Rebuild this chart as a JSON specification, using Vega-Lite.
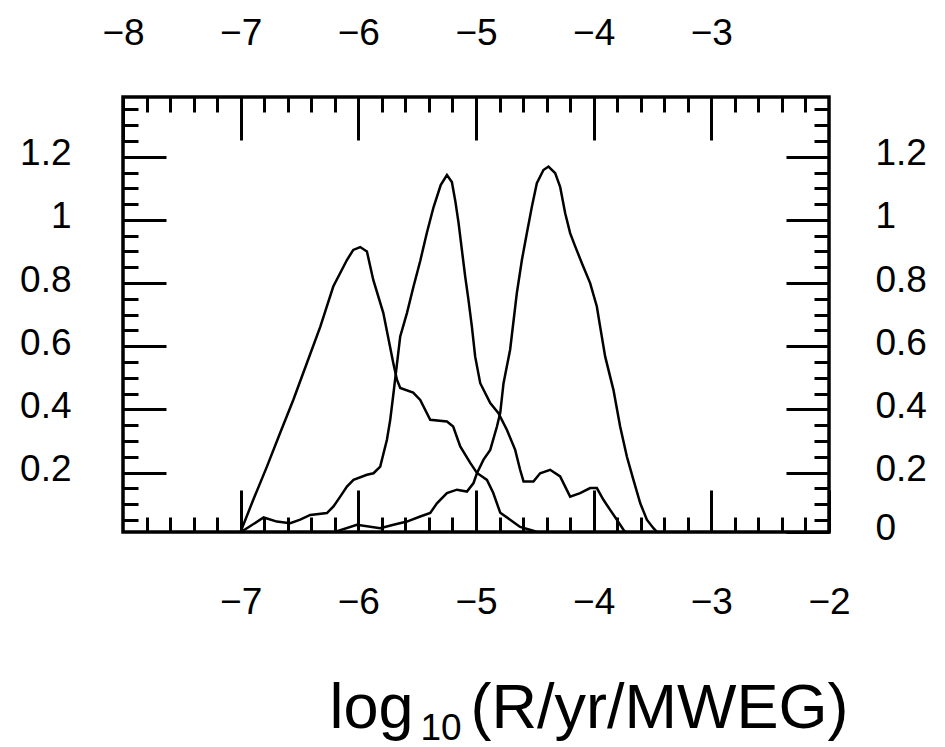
{
  "$schema": "https://vega.github.io/schema/vega-lite/v6.json",
  "width": 706,
  "height": 435,
  "autosize": "none",
  "padding": {"left": 123, "top": 97, "right": 116, "bottom": 215},
  "background": "white",
  "config": {
    "view": {"stroke": "black", "strokeWidth": 3.5},
    "axis": {
      "domain": false,
      "grid": false,
      "tickColor": "black",
      "tickWidth": 3,
      "labelColor": "black",
      "labelFont": "Liberation Sans",
      "labelFontSize": 37,
      "labelOverlap": false,
      "labelFlush": false,
      "titleFont": "Liberation Sans",
      "titleFontSize": 63,
      "titleFontWeight": "normal",
      "titleColor": "black"
    }
  },
  "data": {
    "values": [
      {"curve": "A", "x": -7.05, "y": 0},
      {"curve": "A", "x": -7.0, "y": 0.013},
      {"curve": "A", "x": -6.893, "y": 0.114},
      {"curve": "A", "x": -6.777, "y": 0.219},
      {"curve": "A", "x": -6.664, "y": 0.326},
      {"curve": "A", "x": -6.553, "y": 0.43},
      {"curve": "A", "x": -6.437, "y": 0.547},
      {"curve": "A", "x": -6.323, "y": 0.662},
      {"curve": "A", "x": -6.213, "y": 0.789},
      {"curve": "A", "x": -6.097, "y": 0.873},
      {"curve": "A", "x": -6.043, "y": 0.905},
      {"curve": "A", "x": -5.984, "y": 0.914},
      {"curve": "A", "x": -5.927, "y": 0.9},
      {"curve": "A", "x": -5.873, "y": 0.81},
      {"curve": "A", "x": -5.788, "y": 0.706},
      {"curve": "A", "x": -5.703, "y": 0.547},
      {"curve": "A", "x": -5.672, "y": 0.494},
      {"curve": "A", "x": -5.644, "y": 0.468},
      {"curve": "A", "x": -5.534, "y": 0.453},
      {"curve": "A", "x": -5.474, "y": 0.43},
      {"curve": "A", "x": -5.389, "y": 0.367},
      {"curve": "A", "x": -5.247, "y": 0.362},
      {"curve": "A", "x": -5.194, "y": 0.346},
      {"curve": "A", "x": -5.134, "y": 0.283},
      {"curve": "A", "x": -5.049, "y": 0.231},
      {"curve": "A", "x": -4.992, "y": 0.199},
      {"curve": "A", "x": -4.907, "y": 0.177},
      {"curve": "A", "x": -4.854, "y": 0.136},
      {"curve": "A", "x": -4.794, "y": 0.073},
      {"curve": "A", "x": -4.71, "y": 0.051},
      {"curve": "A", "x": -4.625, "y": 0.028},
      {"curve": "A", "x": -4.514, "y": 0.016},
      {"curve": "A", "x": -4.4, "y": 0},

      {"curve": "B", "x": -7.05, "y": 0},
      {"curve": "B", "x": -6.947, "y": 0.024},
      {"curve": "B", "x": -6.805, "y": 0.058},
      {"curve": "B", "x": -6.692, "y": 0.045},
      {"curve": "B", "x": -6.579, "y": 0.04},
      {"curve": "B", "x": -6.494, "y": 0.051},
      {"curve": "B", "x": -6.409, "y": 0.066},
      {"curve": "B", "x": -6.267, "y": 0.072},
      {"curve": "B", "x": -6.211, "y": 0.093},
      {"curve": "B", "x": -6.154, "y": 0.124},
      {"curve": "B", "x": -6.097, "y": 0.156},
      {"curve": "B", "x": -6.041, "y": 0.177},
      {"curve": "B", "x": -5.927, "y": 0.193},
      {"curve": "B", "x": -5.871, "y": 0.198},
      {"curve": "B", "x": -5.814, "y": 0.219},
      {"curve": "B", "x": -5.757, "y": 0.304},
      {"curve": "B", "x": -5.729, "y": 0.367},
      {"curve": "B", "x": -5.701, "y": 0.452},
      {"curve": "B", "x": -5.644, "y": 0.631},
      {"curve": "B", "x": -5.587, "y": 0.705},
      {"curve": "B", "x": -5.531, "y": 0.789},
      {"curve": "B", "x": -5.474, "y": 0.87},
      {"curve": "B", "x": -5.417, "y": 0.96},
      {"curve": "B", "x": -5.361, "y": 1.04},
      {"curve": "B", "x": -5.3, "y": 1.11},
      {"curve": "B", "x": -5.247, "y": 1.142},
      {"curve": "B", "x": -5.205, "y": 1.12},
      {"curve": "B", "x": -5.176, "y": 1.06},
      {"curve": "B", "x": -5.148, "y": 0.99},
      {"curve": "B", "x": -5.12, "y": 0.905},
      {"curve": "B", "x": -5.092, "y": 0.821},
      {"curve": "B", "x": -5.064, "y": 0.747},
      {"curve": "B", "x": -5.035, "y": 0.662},
      {"curve": "B", "x": -5.007, "y": 0.567},
      {"curve": "B", "x": -4.964, "y": 0.483},
      {"curve": "B", "x": -4.879, "y": 0.42},
      {"curve": "B", "x": -4.809, "y": 0.388},
      {"curve": "B", "x": -4.737, "y": 0.335},
      {"curve": "B", "x": -4.667, "y": 0.272},
      {"curve": "B", "x": -4.625, "y": 0.209},
      {"curve": "B", "x": -4.596, "y": 0.172},
      {"curve": "B", "x": -4.512, "y": 0.172},
      {"curve": "B", "x": -4.455, "y": 0.198},
      {"curve": "B", "x": -4.37, "y": 0.209},
      {"curve": "B", "x": -4.285, "y": 0.188},
      {"curve": "B", "x": -4.2, "y": 0.124},
      {"curve": "B", "x": -4.115, "y": 0.135},
      {"curve": "B", "x": -4.03, "y": 0.151},
      {"curve": "B", "x": -3.973, "y": 0.151},
      {"curve": "B", "x": -3.917, "y": 0.114},
      {"curve": "B", "x": -3.86, "y": 0.082},
      {"curve": "B", "x": -3.803, "y": 0.051},
      {"curve": "B", "x": -3.747, "y": 0.019},
      {"curve": "B", "x": -3.7, "y": 0},

      {"curve": "C", "x": -6.3, "y": 0},
      {"curve": "C", "x": -6.012, "y": 0.035},
      {"curve": "C", "x": -5.814, "y": 0.024},
      {"curve": "C", "x": -5.701, "y": 0.035},
      {"curve": "C", "x": -5.587, "y": 0.045},
      {"curve": "C", "x": -5.474, "y": 0.061},
      {"curve": "C", "x": -5.389, "y": 0.072},
      {"curve": "C", "x": -5.332, "y": 0.103},
      {"curve": "C", "x": -5.247, "y": 0.135},
      {"curve": "C", "x": -5.162, "y": 0.146},
      {"curve": "C", "x": -5.077, "y": 0.14},
      {"curve": "C", "x": -5.021, "y": 0.167},
      {"curve": "C", "x": -4.992, "y": 0.198},
      {"curve": "C", "x": -4.936, "y": 0.241},
      {"curve": "C", "x": -4.879, "y": 0.272},
      {"curve": "C", "x": -4.822, "y": 0.346},
      {"curve": "C", "x": -4.794, "y": 0.389},
      {"curve": "C", "x": -4.766, "y": 0.483},
      {"curve": "C", "x": -4.71, "y": 0.589},
      {"curve": "C", "x": -4.653, "y": 0.768},
      {"curve": "C", "x": -4.61, "y": 0.873},
      {"curve": "C", "x": -4.568, "y": 0.958},
      {"curve": "C", "x": -4.525, "y": 1.042},
      {"curve": "C", "x": -4.483, "y": 1.116},
      {"curve": "C", "x": -4.427, "y": 1.158},
      {"curve": "C", "x": -4.384, "y": 1.169},
      {"curve": "C", "x": -4.327, "y": 1.148},
      {"curve": "C", "x": -4.285, "y": 1.105},
      {"curve": "C", "x": -4.242, "y": 1.021},
      {"curve": "C", "x": -4.2, "y": 0.958},
      {"curve": "C", "x": -4.157, "y": 0.916},
      {"curve": "C", "x": -4.1, "y": 0.863},
      {"curve": "C", "x": -4.03, "y": 0.8},
      {"curve": "C", "x": -3.973, "y": 0.726},
      {"curve": "C", "x": -3.945, "y": 0.662},
      {"curve": "C", "x": -3.902, "y": 0.567},
      {"curve": "C", "x": -3.832, "y": 0.462},
      {"curve": "C", "x": -3.775, "y": 0.346},
      {"curve": "C", "x": -3.718, "y": 0.251},
      {"curve": "C", "x": -3.662, "y": 0.177},
      {"curve": "C", "x": -3.604, "y": 0.103},
      {"curve": "C", "x": -3.548, "y": 0.051},
      {"curve": "C", "x": -3.492, "y": 0.024},
      {"curve": "C", "x": -3.43, "y": 0}
    ]
  },
  "resolve": {
    "scale": {"x": "shared", "y": "shared"},
    "axis": {"x": "independent", "y": "independent"}
  },
  "layer": [
    {
      "mark": {"type": "line", "color": "black", "strokeWidth": 2.5, "clip": true},
      "encoding": {
        "x": {
          "field": "x", "type": "quantitative",
          "scale": {"domain": [-8, -2], "nice": false, "zero": false},
          "axis": {
            "orient": "bottom",
            "values": [-7, -6, -5, -4, -3, -2],
            "tickSize": -42,
            "labelPadding": 94,
            "labelExpr": "format(datum.value, 'd')",
            "title": "(R/yr/MWEG)",
            "titleX": 347,
            "titleY": 195,
            "titleAlign": "left",
            "titleBaseline": "alphabetic",
            "titleAngle": 0
          }
        },
        "y": {
          "field": "y", "type": "quantitative",
          "scale": {"domain": [0.012, 1.389], "nice": false, "zero": false},
          "axis": {
            "orient": "left",
            "values": [0.2, 0.4, 0.6, 0.8, 1, 1.2],
            "tickSize": -43,
            "labelPadding": 95,
            "labelOffset": -3,
            "labelBaseline": "middle",
            "labelExpr": "datum.value < 0.05 ? '0' : '' + round(datum.value * 10) / 10",
            "title": null
          }
        },
        "detail": {"field": "curve"}
      }
    },
    {
      "mark": {"type": "line", "opacity": 0, "clip": true},
      "encoding": {
        "x": {
          "field": "x", "type": "quantitative",
          "scale": {"domain": [-8, -2], "nice": false, "zero": false},
          "axis": {
            "orient": "bottom",
            "values": [-7.8, -7.6, -7.4, -7.2, -6.8, -6.6, -6.4, -6.2, -5.8, -5.6, -5.4, -5.2, -4.8, -4.6, -4.4, -4.2, -3.8, -3.6, -3.4, -3.2, -2.8, -2.6, -2.4, -2.2],
            "tickSize": -15,
            "labels": false,
            "title": "10",
            "titleFontSize": 37,
            "titleX": 297,
            "titleY": 207,
            "titleAlign": "left",
            "titleBaseline": "alphabetic",
            "titleAngle": 0
          }
        },
        "y": {
          "field": "y", "type": "quantitative",
          "scale": {"domain": [0.012, 1.389], "nice": false, "zero": false},
          "axis": {
            "orient": "left",
            "values": [0.05, 0.1, 0.15, 0.25, 0.3, 0.35, 0.45, 0.5, 0.55, 0.65, 0.7, 0.75, 0.85, 0.9, 0.95, 1.05, 1.1, 1.15, 1.25, 1.3, 1.35],
            "tickSize": -15,
            "labels": false,
            "title": null
          }
        },
        "detail": {"field": "curve"}
      }
    },
    {
      "mark": {"type": "line", "opacity": 0, "clip": true},
      "encoding": {
        "x": {
          "field": "x", "type": "quantitative",
          "scale": {"domain": [-8, -2], "nice": false, "zero": false},
          "axis": {
            "orient": "top",
            "values": [-8, -7, -6, -5, -4, -3],
            "tickSize": -43,
            "labelPadding": 88,
            "labelExpr": "format(datum.value, 'd')",
            "title": null
          }
        },
        "y": {
          "field": "y", "type": "quantitative",
          "scale": {"domain": [0.012, 1.389], "nice": false, "zero": false},
          "axis": {
            "orient": "right",
            "values": [0.013, 0.2, 0.4, 0.6, 0.8, 1, 1.2],
            "tickSize": -43,
            "labelPadding": 89,
            "labelOffset": -3,
            "labelBaseline": "middle",
            "labelExpr": "datum.value < 0.05 ? '0' : '' + round(datum.value * 10) / 10",
            "title": null
          }
        },
        "detail": {"field": "curve"}
      }
    },
    {
      "mark": {"type": "line", "opacity": 0, "clip": true},
      "encoding": {
        "x": {
          "field": "x", "type": "quantitative",
          "scale": {"domain": [-8, -2], "nice": false, "zero": false},
          "axis": {
            "orient": "top",
            "values": [-7.8, -7.6, -7.4, -7.2, -6.8, -6.6, -6.4, -6.2, -5.8, -5.6, -5.4, -5.2, -4.8, -4.6, -4.4, -4.2, -3.8, -3.6, -3.4, -3.2, -2.8, -2.6, -2.4, -2.2],
            "tickSize": -15,
            "labels": false,
            "title": "log",
            "titleX": 206,
            "titleY": 630,
            "titleAlign": "left",
            "titleBaseline": "alphabetic",
            "titleAngle": 0
          }
        },
        "y": {
          "field": "y", "type": "quantitative",
          "scale": {"domain": [0.012, 1.389], "nice": false, "zero": false},
          "axis": {
            "orient": "right",
            "values": [0.05, 0.1, 0.15, 0.25, 0.3, 0.35, 0.45, 0.5, 0.55, 0.65, 0.7, 0.75, 0.85, 0.9, 0.95, 1.05, 1.1, 1.15, 1.25, 1.3, 1.35],
            "tickSize": -15,
            "labels": false,
            "title": null
          }
        },
        "detail": {"field": "curve"}
      }
    }
  ]
}
